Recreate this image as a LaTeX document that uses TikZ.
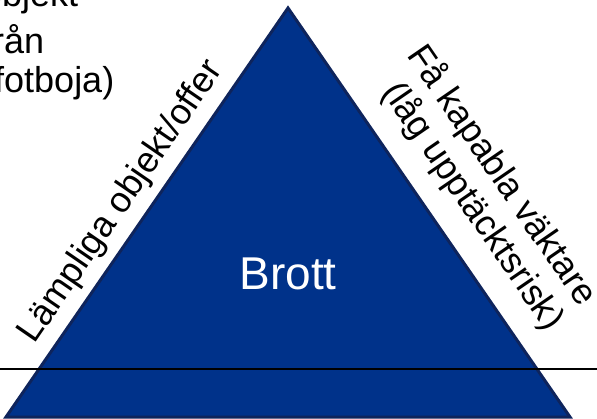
\documentclass[tikz,border=0pt]{standalone}
\usepackage{fontspec}
\setmainfont{Liberation Sans}
\usetikzlibrary{calc}
\usetikzlibrary{positioning}

\definecolor{brottfill}{RGB}{0,50,138}
\definecolor{brottedge}{RGB}{14,36,92}

\begin{document}
\begin{tikzpicture}[
    x=1pt, y=-1pt,
    pyramid/.style={draw=brottedge, fill=brottfill, line width=3pt, line join=miter},
    sidelabel/.style={font=\fontsize{36}{43}\selectfont, inner sep=0pt, anchor=base},
    centerlabel/.style={font=\fontsize{46}{55}\selectfont, text=white, inner sep=0pt, anchor=base},
    cornerlabel/.style={font=\fontsize{36}{39}\selectfont, inner sep=0pt, anchor=base west, align=left},
    groundline/.style={draw=black, line width=2.2pt}
]

\useasboundingbox (0,0) rectangle (597,419);

\coordinate (apex) at (288,8);
\coordinate (lower_left) at (6,417);
\coordinate (lower_right) at (570,417);

\filldraw[pyramid] (apex) -- (lower_left) -- (lower_right) -- cycle;

\node[centerlabel] (crime_label) at (288,290) {Brott};

% text along the two slopes
\coordinate (left_middle) at ($(apex)!0.5115!(lower_left)$);
\node[sidelabel, rotate=55.5] (target_label)
    at ($(left_middle)!17.5pt!90:(apex)$) {Lämpliga objekt/offer};

\coordinate (right_upper_middle) at ($(apex)!0.522!(lower_right)$);
\coordinate (right_lower_middle) at ($(apex)!0.540!(lower_right)$);
\node[sidelabel, rotate=-55.5] (guardian_upper)
    at ($(right_upper_middle)!70pt!-90:(apex)$) {Få kapabla väktare};
\node[sidelabel, rotate=-55.5] (guardian_lower)
    at ($(right_lower_middle)!29pt!-90:(apex)$) {(låg upptäcktsrisk)};

% cut off in the upper left corner
\node[cornerlabel] (offender_label) at (-18,93) {objekt\\[8pt]från\\(fotboja)};

\coordinate (line_west) at (0,369);
\coordinate (line_east) at (597,369);
\draw[groundline] (line_west) -- (line_east);

\end{tikzpicture}
\end{document}
